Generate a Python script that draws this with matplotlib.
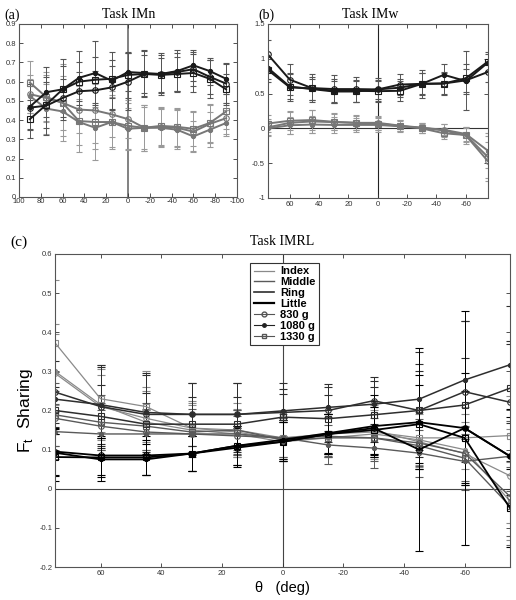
import numpy as np
import matplotlib.pyplot as plt
from matplotlib.lines import Line2D

plt.rcParams['font.family'] = ['Liberation Sans', 'DejaVu Sans']
plt.rcParams['axes.unicode_minus'] = False

# ---- panel (a): Task IMn ----
theta_a = [90, 75, 60, 45, 30, 15, 0, -15, -30, -45, -60, -75, -90]
imn_mid_p = [0.47, 0.545, 0.56, 0.62, 0.645, 0.605, 0.65, 0.645, 0.64, 0.655, 0.685, 0.655, 0.615]
imn_mid_s = [0.405, 0.48, 0.56, 0.60, 0.61, 0.615, 0.635, 0.64, 0.635, 0.64, 0.645, 0.615, 0.56]
imn_mid_o = [0.465, 0.475, 0.515, 0.55, 0.555, 0.57, 0.60, 0.64, 0.64, 0.65, 0.665, 0.625, 0.59]
imn_idx_s = [0.595, 0.52, 0.49, 0.395, 0.39, 0.39, 0.37, 0.36, 0.37, 0.365, 0.355, 0.385, 0.445]
imn_idx_o = [0.535, 0.515, 0.49, 0.455, 0.45, 0.43, 0.405, 0.36, 0.365, 0.36, 0.34, 0.38, 0.41]
imn_idx_p = [0.525, 0.46, 0.445, 0.39, 0.36, 0.39, 0.355, 0.36, 0.36, 0.35, 0.315, 0.35, 0.385]
imn_mid_p_err = [0.12, 0.13, 0.16, 0.14, 0.165, 0.15, 0.10, 0.12, 0.11, 0.11, 0.08, 0.07, 0.08]
imn_mid_s_err = [0.10, 0.12, 0.12, 0.10, 0.12, 0.10, 0.12, 0.10, 0.09, 0.09, 0.10, 0.10, 0.08]
imn_mid_o_err = [0.11, 0.15, 0.10, 0.10, 0.10, 0.11, 0.15, 0.12, 0.10, 0.10, 0.09, 0.09, 0.10]
imn_idx_s_err = [0.115, 0.13, 0.20, 0.16, 0.20, 0.14, 0.12, 0.12, 0.10, 0.10, 0.09, 0.10, 0.09]
imn_idx_o_err = [0.10, 0.12, 0.14, 0.12, 0.17, 0.12, 0.10, 0.11, 0.10, 0.10, 0.10, 0.10, 0.08]
imn_idx_p_err = [0.09, 0.13, 0.13, 0.12, 0.11, 0.13, 0.11, 0.12, 0.10, 0.10, 0.08, 0.09, 0.07]

# ---- panel (b): Task IMw ----
theta_b = [75, 60, 45, 30, 15, 0, -15, -30, -45, -60, -75]
imw_mid_o = [1.063, 0.70, 0.58, 0.565, 0.565, 0.56, 0.63, 0.64, 0.645, 0.69, 0.81]
imw_mid_s = [0.84, 0.59, 0.575, 0.54, 0.54, 0.535, 0.54, 0.64, 0.645, 0.72, 0.96]
imw_mid_p = [0.87, 0.60, 0.565, 0.53, 0.53, 0.56, 0.585, 0.64, 0.77, 0.68, 0.945]
imw_idx_s = [0.07, 0.11, 0.12, 0.095, 0.08, 0.07, 0.035, 0.0, -0.07, -0.095, -0.41]
imw_idx_o = [0.015, 0.08, 0.10, 0.09, 0.08, 0.08, 0.04, 0.01, -0.03, -0.10, -0.47]
imw_idx_p = [0.0, 0.045, 0.055, 0.05, 0.05, 0.05, 0.03, 0.01, -0.02, -0.08, -0.32]
imw_mid_o_err = [0.20, 0.22, 0.20, 0.20, 0.18, 0.16, 0.15, 0.20, 0.17, 0.42, 0.15]
imw_mid_s_err = [0.18, 0.20, 0.17, 0.17, 0.16, 0.15, 0.14, 0.16, 0.15, 0.20, 0.14]
imw_mid_p_err = [0.16, 0.18, 0.15, 0.15, 0.15, 0.14, 0.13, 0.15, 0.16, 0.18, 0.12]
imw_idx_s_err = [0.12, 0.14, 0.15, 0.12, 0.10, 0.10, 0.08, 0.07, 0.08, 0.10, 0.30]
imw_idx_o_err = [0.12, 0.16, 0.16, 0.12, 0.11, 0.10, 0.08, 0.07, 0.09, 0.12, 0.28]
imw_idx_p_err = [0.10, 0.12, 0.12, 0.11, 0.10, 0.10, 0.07, 0.07, 0.08, 0.10, 0.25]

# ---- panel (c): Task IMRL ----
theta_c = [75, 60, 45, 30, 15, 0, -15, -30, -45, -60, -75]
idx_830 = [0.295, 0.21, 0.18, 0.155, 0.145, 0.125, 0.14, 0.15, 0.12, 0.09, 0.033]
idx_1080 = [0.30, 0.215, 0.17, 0.15, 0.14, 0.12, 0.13, 0.14, 0.125, 0.10, -0.032]
idx_1330 = [0.373, 0.23, 0.21, 0.155, 0.15, 0.13, 0.14, 0.145, 0.13, 0.13, 0.136]
mid_830 = [0.18, 0.16, 0.145, 0.14, 0.135, 0.13, 0.134, 0.13, 0.117, 0.091, -0.02]
mid_1080 = [0.146, 0.14, 0.14, 0.14, 0.14, 0.13, 0.112, 0.104, 0.091, 0.07, 0.083]
mid_1330 = [0.189, 0.17, 0.16, 0.145, 0.15, 0.125, 0.13, 0.13, 0.11, 0.078, -0.045]
ring_830 = [0.247, 0.21, 0.19, 0.19, 0.19, 0.195, 0.20, 0.225, 0.20, 0.248, 0.221]
ring_1080 = [0.229, 0.215, 0.195, 0.19, 0.19, 0.199, 0.208, 0.216, 0.229, 0.278, 0.317]
ring_1330 = [0.20, 0.185, 0.165, 0.165, 0.165, 0.183, 0.179, 0.189, 0.20, 0.214, 0.257]
lit_830 = [0.095, 0.085, 0.085, 0.09, 0.105, 0.12, 0.14, 0.155, 0.10, 0.155, 0.083]
lit_1080 = [0.092, 0.075, 0.075, 0.09, 0.11, 0.125, 0.142, 0.16, 0.17, 0.155, 0.083]
lit_1330 = [0.081, 0.08, 0.08, 0.09, 0.11, 0.12, 0.14, 0.15, 0.165, 0.13, -0.05]
idx_830_err = [0.10, 0.08, 0.08, 0.06, 0.06, 0.05, 0.05, 0.06, 0.07, 0.08, 0.12]
idx_1080_err = [0.12, 0.09, 0.08, 0.07, 0.06, 0.05, 0.05, 0.06, 0.07, 0.09, 0.10]
idx_1330_err = [0.16, 0.085, 0.09, 0.07, 0.07, 0.06, 0.06, 0.07, 0.07, 0.08, 0.10]
mid_830_err = [0.07, 0.06, 0.06, 0.05, 0.05, 0.05, 0.05, 0.05, 0.06, 0.07, 0.10]
mid_1080_err = [0.07, 0.06, 0.06, 0.05, 0.05, 0.05, 0.05, 0.05, 0.06, 0.07, 0.09]
mid_1330_err = [0.08, 0.07, 0.06, 0.06, 0.05, 0.05, 0.05, 0.06, 0.06, 0.08, 0.10]
ring_830_err = [0.08, 0.10, 0.10, 0.08, 0.08, 0.06, 0.06, 0.06, 0.12, 0.18, 0.15]
ring_1080_err = [0.07, 0.10, 0.10, 0.08, 0.08, 0.07, 0.06, 0.06, 0.12, 0.15, 0.15]
ring_1330_err = [0.06, 0.08, 0.08, 0.07, 0.07, 0.06, 0.06, 0.07, 0.10, 0.12, 0.12]
lit_830_err = [0.06, 0.05, 0.05, 0.045, 0.05, 0.05, 0.05, 0.07, 0.26, 0.14, 0.10]
lit_1080_err = [0.06, 0.055, 0.04, 0.045, 0.05, 0.05, 0.05, 0.08, 0.12, 0.30, 0.12]
lit_1330_err = [0.06, 0.05, 0.045, 0.045, 0.05, 0.05, 0.05, 0.06, 0.10, 0.12, 0.10]

legend_labels = ['Index', 'Middle', 'Ring', 'Little', '830 g', '1080 g', '1330 g']

GRAY_I = '#8a8a8a'
GRAY_M = '#5a5a5a'
GRAY_R = '#2e2e2e'
BLACK = '#000000'
MK = {'o': dict(marker='o', mfc='none', ms=4),
      'p': dict(marker='.', ms=6),
      's': dict(marker='s', mfc='none', ms=4)}


def draw(ax, x, y, err, color, mk, lw, ecolor=None, cap=2.0):
    ax.errorbar(x, y, yerr=err, color=color, ecolor=ecolor or color, lw=lw,
                elinewidth=0.7, capsize=cap, capthick=0.7, mew=0.8,
                **MK[mk])


def style(ax, xlim, ylim, xticks, yticks):
    ax.set_xlim(*xlim)
    ax.set_ylim(*ylim)
    ax.set_xticks(xticks)
    ax.set_yticks(yticks)
    ax.tick_params(direction='in', top=True, right=True, labelsize=5.5,
                   length=3, width=0.6, pad=2, colors='#333333')
    for s in ax.spines.values():
        s.set_color('#555555')
        s.set_linewidth(0.8)


fig = plt.figure(figsize=(5.16, 6.0), dpi=100)

# (a)
ax_a = fig.add_axes([0.0368, 0.6717, 0.4225, 0.2883])
ax_a.axvline(0, color='#777777', lw=1.3, zorder=0)
for y, e, m in [(imn_idx_s, imn_idx_s_err, 's'), (imn_idx_o, imn_idx_o_err, 'o'),
                (imn_idx_p, imn_idx_p_err, 'p')]:
    draw(ax_a, theta_a, y, e, '#777777', m, 1.4, ecolor='#9a9a9a')
for y, e, m in [(imn_mid_p, imn_mid_p_err, 'p'), (imn_mid_s, imn_mid_s_err, 's'),
                (imn_mid_o, imn_mid_o_err, 'o')]:
    draw(ax_a, theta_a, y, e, '#1a1a1a', m, 1.4, ecolor='#555555')
style(ax_a, (100, -100), (0, 0.9), np.arange(100, -101, -20), np.arange(0, 0.91, 0.1))
ax_a.set_yticklabels(['0', '0.1', '0.2', '0.3', '0.4', '0.5', '0.6', '0.7', '0.8', '0.9'])
ax_a.tick_params(axis='x', pad=1)
fig.text(0.008, 0.975, '(a)', family='Liberation Serif', fontsize=10, va='center')
fig.text(0.25, 0.975, 'Task IMn', family='Liberation Serif', fontsize=10, ha='center', va='center')

# (b)
ax_b = fig.add_axes([0.519, 0.67, 0.4264, 0.29])
ax_b.axvline(0, color='#222222', lw=0.8, zorder=0)
ax_b.axhline(0, color='#333333', lw=0.8, zorder=0)
for y, e, m in [(imw_idx_s, imw_idx_s_err, 's'), (imw_idx_o, imw_idx_o_err, 'o'),
                (imw_idx_p, imw_idx_p_err, 'p')]:
    draw(ax_b, theta_b, y, e, '#777777', m, 1.4, ecolor='#9a9a9a')
for y, e, m in [(imw_mid_o, imw_mid_o_err, 'o'), (imw_mid_s, imw_mid_s_err, 's'),
                (imw_mid_p, imw_mid_p_err, 'p')]:
    draw(ax_b, theta_b, y, e, '#1a1a1a', m, 1.4, ecolor='#555555')
style(ax_b, (75, -75), (-1, 1.5), [60, 40, 20, 0, -20, -40, -60], [-1, -0.5, 0, 0.5, 1, 1.5])
ax_b.set_yticklabels(['-1', '-0.5', '0', '0.5', '1', '1.5'])
fig.text(0.5, 0.975, '(b)', family='Liberation Serif', fontsize=10, va='center')
fig.text(0.717, 0.975, 'Task IMw', family='Liberation Serif', fontsize=10, ha='center', va='center')

# (c)
ax_c = fig.add_axes([0.1066, 0.055, 0.882, 0.5217])
ax_c.axvline(0, color='#444444', lw=0.8, zorder=0)
ax_c.axhline(0, color='#444444', lw=0.8, zorder=0)
series_c = [
    (idx_830, idx_830_err, GRAY_I, 'o', 0.9), (idx_1080, idx_1080_err, GRAY_I, 'p', 0.9),
    (idx_1330, idx_1330_err, GRAY_I, 's', 0.9),
    (mid_830, mid_830_err, GRAY_M, 'o', 1.0), (mid_1080, mid_1080_err, GRAY_M, 'p', 1.0),
    (mid_1330, mid_1330_err, GRAY_M, 's', 1.0),
    (ring_830, ring_830_err, GRAY_R, 'o', 1.1), (ring_1080, ring_1080_err, GRAY_R, 'p', 1.1),
    (ring_1330, ring_1330_err, GRAY_R, 's', 1.1),
    (lit_830, lit_830_err, BLACK, 'o', 1.3), (lit_1080, lit_1080_err, BLACK, 'p', 1.3),
    (lit_1330, lit_1330_err, BLACK, 's', 1.3),
]
for y, e, c, m, lw in series_c:
    draw(ax_c, theta_c, y, e, c, m, lw, cap=3.0)
style(ax_c, (75, -75), (-0.2, 0.6), [60, 40, 20, 0, -20, -40, -60],
      [-0.2, -0.1, 0, 0.1, 0.2, 0.3, 0.4, 0.5, 0.6])
ax_c.set_yticklabels(['-0.2', '-0.1', '0', '0.1', '0.2', '0.3', '0.4', '0.5', '0.6'])
ax_c.set_ylabel('F$_\\mathregular{t}$  Sharing', fontsize=12.5, labelpad=3)
ax_c.set_xlabel('θ   (deg)', fontsize=10.5, labelpad=3)
fig.text(0.02, 0.596, '(c)', family='Liberation Serif', fontsize=11, va='center')
fig.text(0.547, 0.597, 'Task IMRL', family='Liberation Serif', fontsize=10, ha='center', va='center')

handles = [
    Line2D([], [], color=GRAY_I, lw=0.9),
    Line2D([], [], color=GRAY_M, lw=1.0),
    Line2D([], [], color=GRAY_R, lw=1.2),
    Line2D([], [], color=BLACK, lw=1.6),
    Line2D([], [], color='#555555', lw=0.8, marker='o', mfc='none', ms=3.5),
    Line2D([], [], color='#222222', lw=0.8, marker='.', ms=5),
    Line2D([], [], color='#555555', lw=0.8, marker='s', mfc='none', ms=3.5),
]
leg = ax_c.legend(handles, legend_labels, loc='upper left', bbox_to_anchor=(0.429, 0.971),
                  borderaxespad=0, fontsize=8, handlelength=1.8, handletextpad=0.6,
                  borderpad=0.3, labelspacing=0.08, frameon=True, fancybox=False, framealpha=1)
leg.get_frame().set_edgecolor('#333333')
leg.get_frame().set_linewidth(0.8)
for t in leg.get_texts():
    t.set_fontweight('semibold')

fig.savefig('out.png', dpi=100)
